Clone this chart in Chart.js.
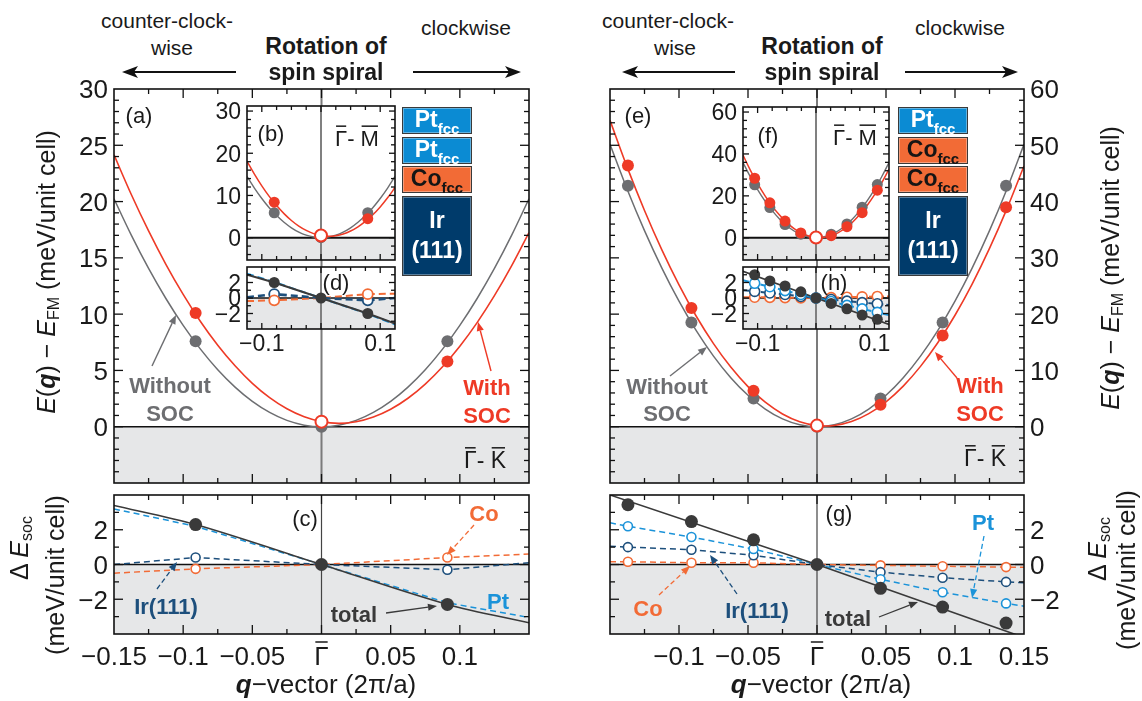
<!DOCTYPE html>
<html>
<head>
<meta charset="utf-8">
<title>Spin-spiral dispersion with and without SOC</title>
<script src="https://cdn.jsdelivr.net/npm/chart.js@4.4.1/dist/chart.umd.min.js"></script>
<style>
  html,body{margin:0;padding:0;background:#fff;}
  body{position:relative;width:1142px;height:701px;overflow:hidden;font-family:"Liberation Sans",Arial,Helvetica,sans-serif;color:#1a1a1a;}
  canvas{position:absolute;z-index:1;}
  canvas.inset{z-index:2;}
  .t{position:absolute;white-space:nowrap;transform:translate(-50%,-50%);line-height:1;z-index:3;}
  .rot{transform:translate(-50%,-50%) rotate(-90deg);}
  .t sub{font-size:0.64em;vertical-align:-0.28em;}
  .layer{position:absolute;box-sizing:border-box;border:1px solid #3a3a3a;box-shadow:inset 0 0 0 1px rgba(255,255,255,0.35);display:flex;align-items:center;justify-content:center;font-weight:bold;font-size:23px;z-index:3;}
  .layer span{display:inline-block;text-align:center;line-height:1.3;white-space:nowrap;}
  .layer span.sym{line-height:1;margin-top:-3px;}
  .layer sub{font-size:15px;vertical-align:-7px;line-height:0;}
  .pt{background:#0b8bd3;color:#fff;}
  .co{background:#f26b36;color:#151515;}
  .ir{background:#003b6b;color:#fff;}
  svg.over{position:absolute;left:0;top:0;z-index:3;}
</style>
</head>
<body>

<!-- rotation-sense header, left figure -->
<div class="t" style="left:167px;top:20px;font-size:21px">counter-clock-</div>
<div class="t" style="left:172px;top:47px;font-size:21px">wise</div>
<div class="t" style="left:326px;top:46px;font-size:23px;font-weight:bold">Rotation of</div>
<div class="t" style="left:326px;top:72px;font-size:23px;font-weight:bold">spin spiral</div>
<div class="t" style="left:466px;top:27px;font-size:21px">clockwise</div>
<!-- rotation-sense header, right figure -->
<div class="t" style="left:668px;top:20px;font-size:21px">counter-clock-</div>
<div class="t" style="left:675px;top:47px;font-size:21px">wise</div>
<div class="t" style="left:822px;top:46px;font-size:23px;font-weight:bold">Rotation of</div>
<div class="t" style="left:822px;top:72px;font-size:23px;font-weight:bold">spin spiral</div>
<div class="t" style="left:960px;top:27px;font-size:21px">clockwise</div>

<svg class="over" width="1142" height="701">
  <g stroke="#111" stroke-width="2">
    <line x1="236" y1="72" x2="132" y2="72"/>
    <line x1="413" y1="72" x2="511" y2="72"/>
    <line x1="735" y1="72" x2="632" y2="72"/>
    <line x1="905" y1="72" x2="1008" y2="72"/>
  </g>
  <g fill="#111">
    <polygon points="122,72 138,66 134,72 138,78"/>
    <polygon points="521,72 505,66 509,72 505,78"/>
    <polygon points="622,72 638,66 634,72 638,78"/>
    <polygon points="1018,72 1002,66 1006,72 1002,78"/>
  </g>
</svg>

<!-- axis titles -->
<div class="t rot" style="left:48px;top:272px;font-size:25px"><i>E</i>(<b><i>q</i></b>) − <i>E</i><sub>FM</sub> (meV/unit cell)</div>
<div class="t rot" style="left:1112px;top:268px;font-size:25px"><i>E</i>(<b><i>q</i></b>) − <i>E</i><sub>FM</sub> (meV/unit cell)</div>
<div class="t rot" style="left:21px;top:548px;font-size:25px">Δ <i>E</i><sub>soc</sub></div>
<div class="t rot" style="left:55px;top:575px;font-size:25px">(meV/unit cell)</div>
<div class="t rot" style="left:1099px;top:549px;font-size:25px">Δ <i>E</i><sub>soc</sub></div>
<div class="t rot" style="left:1126px;top:570px;font-size:25px">(meV/unit cell)</div>
<div class="t" style="left:326px;top:684px;font-size:26px"><b><i>q</i></b>−vector (2π/a)</div>
<div class="t" style="left:821px;top:684px;font-size:26px"><b><i>q</i></b>−vector (2π/a)</div>

<!-- layer stacks -->
<div class="layer pt" style="left:402px;top:107px;width:70px;height:27px"><span class="sym">Pt<sub>fcc</sub></span></div>
<div class="layer pt" style="left:402px;top:137px;width:70px;height:27px"><span class="sym">Pt<sub>fcc</sub></span></div>
<div class="layer co" style="left:402px;top:166px;width:70px;height:27px"><span class="sym">Co<sub>fcc</sub></span></div>
<div class="layer ir" style="left:402px;top:196px;width:70px;height:80px"><span>Ir<br>(111)</span></div>
<div class="layer pt" style="left:898px;top:107px;width:70px;height:27px"><span class="sym">Pt<sub>fcc</sub></span></div>
<div class="layer co" style="left:898px;top:137px;width:70px;height:27px"><span class="sym">Co<sub>fcc</sub></span></div>
<div class="layer co" style="left:898px;top:166px;width:70px;height:27px"><span class="sym">Co<sub>fcc</sub></span></div>
<div class="layer ir" style="left:898px;top:196px;width:70px;height:80px"><span>Ir<br>(111)</span></div>

<script>
// ---------------- data ----------------
// q grid (2π/a) of the fitted dispersion curves along Γ–K (main panels)
const qFitK = [-0.15,-0.1375,-0.125,-0.1125,-0.1,-0.0875,-0.075,-0.0625,-0.05,-0.0375,-0.025,-0.0125,0,
               0.0125,0.025,0.0375,0.05,0.0625,0.075,0.0875,0.1,0.1125,0.125,0.1375,0.15];
// q grid of the fitted curves along Γ–M (insets)
const qFitM = [-0.125,-0.1125,-0.1,-0.0875,-0.075,-0.0625,-0.05,-0.0375,-0.025,-0.0125,0,
               0.0125,0.025,0.0375,0.05,0.0625,0.075,0.0875,0.1,0.1125,0.125];

// (a) Pt/Pt/Co/Ir(111), Γ–K, meV per unit cell
const fitNoSocA = [20.25,17.02,14.06,11.39,9.0,6.89,5.06,3.52,2.25,1.27,0.56,0.14,0,
                   0.14,0.56,1.27,2.25,3.52,5.06,6.89,9.0,11.39,14.06,17.02,20.25];
const fitSocA   = [24.15,20.63,17.39,14.43,11.75,9.35,7.24,5.41,3.85,2.58,1.59,0.88,0.45,
                   0.30,0.44,0.86,1.55,2.53,3.79,5.33,7.15,9.25,11.64,14.31,17.25];
const qCalcA = [-0.091,0,0.091];
const calcNoSocA = [7.6,0,7.6];
const qSocA = [-0.091,0.091];
const calcSocA = [10.1,5.8];
const socGammaA = [0.45];

// (b) Pt/Pt/Co/Ir(111), Γ–M
const fitNoSocB = [14.5,11.75,9.28,7.1,5.22,3.63,2.32,1.3,0.58,0.15,0,
                   0.15,0.58,1.3,2.32,3.63,5.22,7.1,9.28,11.75,14.5];
const fitSocB   = [18.13,15.06,12.28,9.79,7.6,5.69,4.07,2.74,1.71,0.96,0.5,
                   0.33,0.46,0.86,1.57,2.57,3.85,5.41,7.28,9.44,11.88];
const qCalcB = [-0.079,0,0.079];
const calcNoSocB = [5.9,0,5.9];
const qSocB = [-0.079,0.079];
const calcSocB = [8.4,4.5];
const socGammaB = [0.5];

// (c) layer-resolved ΔE_soc, Γ–K
const qLineC = [-0.15,-0.091,0,0.091,0.15];
const totalLineC = [3.4,2.3,0,-2.3,-3.35];
const ptLineC = [3.2,2.2,0,-2.2,-3.05];
const irLineC = [0.0,0.4,0,-0.3,0.1];
const coLineC = [-0.5,-0.25,0,0.4,0.6];
const qPtsC = [-0.091,0,0.091];
const totalPtsC = [2.3,0,-2.3];
const qLayerPtsC = [-0.091,0.091];
const irPtsC = [0.4,-0.3];
const coPtsC = [-0.25,0.4];

// (d) layer-resolved ΔE_soc, Γ–M
const qLineD = [-0.125,-0.079,0,0.079,0.125];
const totalLineD = [3.0,2.0,0,-2.0,-3.3];
const ptLineD = [3.15,2.05,0,-2.05,-3.4];
const irLineD = [0.1,0.5,0,-0.3,0.0];
const coLineD = [-0.4,-0.3,0,0.5,0.55];
const qPtsD = [-0.079,0,0.079];
const totalPtsD = [2.0,0,-2.0];
const qLayerPtsD = [-0.079,0.079];
const irPtsD = [0.5,-0.3];
const coPtsD = [-0.3,0.5];

// (e) Pt/Co/Co/Ir(111), Γ–K
const fitNoSocE = [50.18,42.16,34.84,28.22,22.3,17.07,12.54,8.71,5.58,3.14,1.39,0.35,0,
                   0.35,1.39,3.14,5.58,8.71,12.54,17.07,22.3,28.22,34.84,42.16,50.18];
const fitSocE   = [54.43,46.07,38.42,31.46,25.2,19.63,14.77,10.6,7.13,4.35,2.27,0.89,0.2,
                   0.21,0.92,2.33,4.43,7.22,10.72,14.91,19.8,25.38,31.67,38.65,46.33];
const qCalcE = [-0.137,-0.091,-0.046,0,0.046,0.091,0.137];
const calcNoSocE = [42.8,18.5,5.0,0,5.0,18.5,42.8];
const qSocE = [-0.137,-0.091,-0.046,0.046,0.091,0.137];
const calcSocE = [46.4,21.1,6.4,3.9,16.2,39.0];
const socGammaE = [0.2];

// (f) Pt/Co/Co/Ir(111), Γ–M
const fitNoSocF = [35.94,29.11,23.0,17.61,12.94,8.98,5.75,3.23,1.44,0.36,0,
                   0.36,1.44,3.23,5.75,8.98,12.94,17.61,23.0,29.11,35.94];
const fitSocF   = [39.47,32.3,25.85,20.12,15.12,10.82,7.25,4.39,2.27,0.85,0.15,
                   0.17,0.92,2.37,4.55,7.44,11.07,15.4,20.45,26.22,32.72];
const qCalcF = [-0.105,-0.079,-0.053,-0.026,0,0.026,0.053,0.079,0.105];
const calcNoSocF = [25.3,14.4,6.3,1.7,0,1.7,6.6,14.6,25.4];
const qSocF = [-0.105,-0.079,-0.053,-0.026,0.026,0.053,0.079,0.105];
const calcSocF = [28.4,16.7,8.0,2.3,1.0,5.3,12.0,22.7];
const socGammaF = [0.15];

// (g) layer-resolved ΔE_soc, Γ–K
const qPtsG = [-0.137,-0.091,-0.046,0,0.046,0.091,0.137];
const totalPtsG = [3.44,2.47,1.42,0,-1.37,-2.45,-3.37];
const ptPtsG = [2.2,1.58,0.89,0,-0.85,-1.6,-2.24];
const irPtsG = [1.0,0.85,0.53,0,-0.44,-0.76,-1.0];
const coPtsG = [0.16,0.1,0.1,0,-0.05,-0.1,-0.15];
const qLineG = [-0.15,-0.137,-0.091,-0.046,0,0.046,0.091,0.137,0.15];
const ptLineG = [2.4,2.2,1.58,0.89,0,-0.85,-1.6,-2.24,-2.4];
const irLineG = [1.05,1.0,0.85,0.53,0,-0.44,-0.76,-1.0,-1.05];
const coLineG = [0.16,0.16,0.1,0.1,0,-0.05,-0.1,-0.15,-0.16];
const qTotalLineG = [-0.15,0,0.15];
const totalLineG = [4.0,0,-4.2];

// (h) layer-resolved ΔE_soc, Γ–M
const qPtsH = [-0.105,-0.079,-0.053,-0.026,0,0.026,0.053,0.079,0.105];
const totalPtsH = [3.0,2.2,1.55,0.8,0,-0.7,-1.4,-2.2,-2.75];
const ptPtsH = [1.9,1.45,0.95,0.45,0,-0.45,-0.95,-1.4,-1.85];
const irPtsH = [0.85,0.65,0.45,0.2,0,-0.2,-0.4,-0.6,-0.75];
const coPtsH = [0.1,0.08,0.05,0.02,0,0.05,0.1,0.15,0.2];
const qLineH = [-0.125,-0.105,-0.079,-0.053,-0.026,0,0.026,0.053,0.079,0.105,0.125];
const ptLineH = [2.3,1.9,1.45,0.95,0.45,0,-0.45,-0.95,-1.4,-1.85,-2.2];
const irLineH = [1.0,0.85,0.65,0.45,0.2,0,-0.2,-0.4,-0.6,-0.75,-0.9];
const coLineH = [0.1,0.1,0.08,0.05,0.02,0,0.05,0.1,0.15,0.2,0.2];
const qTotalLineH = [-0.125,0,0.125];
const totalLineH = [3.45,0,-3.4];

// tick labels
const yTicksA = [0,5,10,15,20,25,30];
const yTicksE = [0,10,20,30,40,50,60];
const yTicksB = [0,10,20,30];
const yTicksF = [0,20,40,60];
const yTicksSoc = [-2,0,2];
const xTicksC = [-0.15,-0.1,-0.05,0,0.05,0.1];
const xTicksG = [-0.1,-0.05,0,0.05,0.1,0.15];
const xTicksInset = [-0.1,0.1];

// ---------------- styling ----------------
const FONT = '"Liberation Sans", Arial, Helvetica, sans-serif';
const font = (px, w) => (w ? w + ' ' : '') + px + 'px ' + FONT;
const INK = '#1a1a1a';
const GRAY = '#6d6e71';
const RED = '#ee3a26';
const DARK = '#3a3a3a';
const PT = '#1b93d9';
const IR = '#1d4f7c';
const CO = '#f26b36';
const SHADE = '#e6e7e8';

const pts = (xs, ys) => xs.map((x, i) => ({x, y: ys[i]}));
const curve = (xs, ys, color, width, dash, tension) => ({
  data: pts(xs, ys), showLine: true, borderColor: color, borderWidth: width,
  borderDash: dash || [], pointRadius: 0, tension: tension || 0, fill: false
});
const dots = (xs, ys, fill, stroke, r, bw) => ({
  data: pts(xs, ys), showLine: false, pointRadius: r, pointBackgroundColor: fill,
  pointBorderColor: stroke, pointBorderWidth: bw
});

function seg(ctx, x1, y1, x2, y2) { ctx.beginPath(); ctx.moveTo(x1, y1); ctx.lineTo(x2, y2); ctx.stroke(); }

function label(ctx, s, x, y, size, color, weight) {
  ctx.font = font(size, weight); ctx.fillStyle = color;
  ctx.textAlign = 'center'; ctx.textBaseline = 'alphabetic';
  ctx.fillText(s, x, y + size * 0.36);
}

// text such as "Γ- K" with bars over the point symbols
function barLabel(ctx, parts, x, y, size) {
  ctx.font = font(size); ctx.fillStyle = INK; ctx.strokeStyle = INK; ctx.lineWidth = 1.5;
  ctx.textAlign = 'left'; ctx.textBaseline = 'alphabetic';
  const total = parts.reduce((w, p) => w + ctx.measureText(p[0]).width, 0);
  let cx = x - total / 2; const base = y + size * 0.36;
  for (const [s, bar] of parts) {
    const w = ctx.measureText(s).width;
    ctx.fillText(s, cx, base);
    if (bar) seg(ctx, cx + 1, base - size * 0.716 - 4, cx + w - 1, base - size * 0.716 - 4);
    cx += w;
  }
}

function arrow(ctx, x1, y1, x2, y2, color, width, dash) {
  const ang = Math.atan2(y2 - y1, x2 - x1), head = 9, half = 3.6;
  const bx = x2 - head * Math.cos(ang), by = y2 - head * Math.sin(ang);
  ctx.save();
  ctx.strokeStyle = color; ctx.fillStyle = color; ctx.lineWidth = width;
  ctx.setLineDash(dash || []);
  seg(ctx, x1, y1, bx, by);
  ctx.setLineDash([]);
  ctx.beginPath(); ctx.moveTo(x2, y2);
  ctx.lineTo(bx + half * Math.sin(ang), by - half * Math.cos(ang));
  ctx.lineTo(bx - half * Math.sin(ang), by + half * Math.cos(ang));
  ctx.closePath(); ctx.fill();
  ctx.restore();
}

const fmtQ = v => v === 0 ? 'Γ' : (v < 0 ? '−' : '') + String(Math.abs(v));
const fmtE = v => (v < 0 ? '−' : '') + String(Math.abs(v));

// ---------------- frame plugin: shading, Γ line, border, inward ticks, tick labels ----------------
const SPECS = {};
function tickList(min, max, step) {
  const out = [];
  for (let i = Math.ceil(min / step - 1e-9); i <= Math.floor(max / step + 1e-9); i++) out.push([i * step, Math.abs(i)]);
  return out;
}
const framePlugin = {
  id: 'frame',
  beforeDatasetsDraw(chart) {
    const s = SPECS[chart.canvas.id]; if (!s) return;
    const ctx = chart.ctx, a = chart.chartArea, xs = chart.scales.x, ys = chart.scales.y;
    ctx.save();
    ctx.fillStyle = '#fff'; ctx.fillRect(a.left, a.top, a.right - a.left, a.bottom - a.top);
    const y0 = ys.getPixelForValue(0);
    ctx.fillStyle = SHADE; ctx.fillRect(a.left, y0, a.right - a.left, a.bottom - y0);
    const x0 = xs.getPixelForValue(0);
    ctx.strokeStyle = s.gamma[0]; ctx.lineWidth = s.gamma[1];
    seg(ctx, x0, a.top, x0, a.bottom);
    ctx.strokeStyle = '#111'; ctx.lineWidth = s.zero;
    seg(ctx, a.left, y0, a.right, y0);
    ctx.restore();
  },
  afterDatasetsDraw(chart) {
    const s = SPECS[chart.canvas.id]; if (!s) return;
    const ctx = chart.ctx, a = chart.chartArea, xs = chart.scales.x, ys = chart.scales.y;
    ctx.save();
    ctx.strokeStyle = '#111'; ctx.lineWidth = 1.6;
    ctx.strokeRect(a.left, a.top, a.right - a.left, a.bottom - a.top);
    ctx.lineWidth = 1.3;
    const T = s.ticks;
    for (const [v, i] of tickList(s.x[0], s.x[1], T.xs)) {
      const p = xs.getPixelForValue(v);
      if (p < a.left + 2 || p > a.right - 2) continue;
      const L = i % T.xm === 0 ? T.big : T.small;
      seg(ctx, p, a.bottom, p, a.bottom - L);
      seg(ctx, p, a.top, p, a.top + L);
    }
    for (const [v, i] of tickList(s.y[0], s.y[1], T.ys)) {
      const p = ys.getPixelForValue(v);
      if (p < a.top + 2 || p > a.bottom - 2) continue;
      const L = i % T.ym === 0 ? T.big : T.small;
      seg(ctx, a.left, p, a.left + L, p);
      seg(ctx, a.right, p, a.right - L, p);
    }
    // y tick labels
    if (s.yl) {
      const Y = s.yl;
      ctx.font = font(Y.size); ctx.fillStyle = INK; ctx.textBaseline = 'alphabetic';
      ctx.textAlign = Y.side === 'left' ? 'right' : 'left';
      const x = Y.side === 'left' ? a.left - Y.pad : a.right + Y.pad;
      for (const v of Y.values) ctx.fillText(fmtE(v), x, ys.getPixelForValue(v) + Y.size * 0.36);
    }
    // x tick labels
    if (s.xl) {
      const X = s.xl;
      ctx.font = font(X.size); ctx.fillStyle = INK; ctx.textBaseline = 'alphabetic'; ctx.textAlign = 'center';
      ctx.strokeStyle = INK; ctx.lineWidth = 1.5;
      const base = a.bottom + X.pad + X.size * 0.716;
      for (const v of X.values) {
        const p = xs.getPixelForValue(v), str = fmtQ(v);
        ctx.fillText(str, p, base);
        if (v === 0) {
          const w = ctx.measureText(str).width;
          seg(ctx, p - w / 2 + 1, base - X.size * 0.716 - 4, p + w / 2 - 1, base - X.size * 0.716 - 4);
        }
      }
    }
    ctx.restore();
    if (s.deco) { ctx.save(); ctx.translate(-s.ox, -s.oy); s.deco(ctx); ctx.restore(); }
  }
};

function makePanel(id, area, pad, spec, layers, inset) {
  const cv = document.createElement('canvas');
  cv.id = id; if (inset) cv.className = 'inset';
  const w = area.r - area.l + pad.l + pad.r, h = area.b - area.t + pad.t + pad.b;
  cv.width = w; cv.height = h;
  cv.style.left = (area.l - pad.l) + 'px'; cv.style.top = (area.t - pad.t) + 'px';
  cv.style.width = w + 'px'; cv.style.height = h + 'px';
  document.body.appendChild(cv);
  spec.ox = area.l - pad.l; spec.oy = area.t - pad.t;
  SPECS[id] = spec;
  // datasets are listed bottom-to-top; Chart.js paints index 0 last
  return new Chart(cv, {
    type: 'scatter',
    data: {datasets: layers.slice().reverse()},
    options: {
      responsive: false, animation: false, devicePixelRatio: 1, events: [],
      layout: {padding: {left: pad.l, right: pad.r, top: pad.t, bottom: pad.b}, autoPadding: false},
      scales: {
        x: {type: 'linear', min: spec.x[0], max: spec.x[1], display: false},
        y: {type: 'linear', min: spec.y[0], max: spec.y[1], display: false}
      },
      plugins: {legend: {display: false}, tooltip: {enabled: false}}
    },
    plugins: [framePlugin]
  });
}

// ---------------- annotations ----------------
function decoA(ctx) {
  label(ctx, '(a)', 139, 115, 22, INK);
  label(ctx, 'Without', 170, 385, 22, GRAY, 'bold');
  label(ctx, 'SOC', 170, 413, 22, GRAY, 'bold');
  arrow(ctx, 152, 366, 176, 315, GRAY, 1.4);
  label(ctx, 'With', 487, 387, 22, RED, 'bold');
  label(ctx, 'SOC', 487, 415, 22, RED, 'bold');
  arrow(ctx, 491, 371, 478, 322, RED, 1.4);
  barLabel(ctx, [['Γ', true], ['- ', false], ['K', true]], 485, 460, 23);
}
function decoB(ctx) {
  label(ctx, '(b)', 271, 133, 22, INK);
  barLabel(ctx, [['Γ', true], ['- ', false], ['M', true]], 357, 138, 22);
}
function decoD(ctx) { label(ctx, '(d)', 336, 282, 22, INK); }
function decoC(ctx) {
  label(ctx, '(c)', 305, 518, 22, INK);
  label(ctx, 'Co', 484, 513, 22, CO, 'bold');
  arrow(ctx, 474, 525, 447, 555, CO, 1.3, [5, 3]);
  label(ctx, 'Pt', 498, 601, 22, PT, 'bold');
  label(ctx, 'total', 354, 614, 22, DARK, 'bold');
  arrow(ctx, 386, 613, 437, 606, DARK, 1.3);
  label(ctx, 'Ir(111)', 166, 606, 22, IR, 'bold');
  arrow(ctx, 157, 589, 177, 562, IR, 1.3, [5, 3]);
}
function decoE(ctx) {
  label(ctx, '(e)', 638, 115, 22, INK);
  label(ctx, 'Without', 667, 386, 22, GRAY, 'bold');
  label(ctx, 'SOC', 667, 413, 22, GRAY, 'bold');
  arrow(ctx, 670, 376, 707, 347, GRAY, 1.4);
  label(ctx, 'With', 980, 385, 22, RED, 'bold');
  label(ctx, 'SOC', 980, 413, 22, RED, 'bold');
  arrow(ctx, 957, 378, 935, 352, RED, 1.4);
  barLabel(ctx, [['Γ', true], ['- ', false], ['K', true]], 985, 458, 23);
}
function decoF(ctx) {
  label(ctx, '(f)', 768, 135, 22, INK);
  barLabel(ctx, [['Γ', true], ['- ', false], ['M', true]], 855, 137, 22);
}
function decoH(ctx) { label(ctx, '(h)', 834, 282, 22, INK); }
function decoG(ctx) {
  label(ctx, '(g)', 839, 513, 22, INK);
  label(ctx, 'Pt', 983, 522, 22, PT, 'bold');
  arrow(ctx, 984, 536, 972, 598, PT, 1.3, [5, 3]);
  label(ctx, 'Co', 648, 608, 22, CO, 'bold');
  arrow(ctx, 659, 595, 690, 566, CO, 1.3, [5, 3]);
  label(ctx, 'Ir(111)', 757, 610, 22, IR, 'bold');
  arrow(ctx, 737, 594, 710, 555, IR, 1.3, [5, 3]);
  label(ctx, 'total', 848, 618, 22, DARK, 'bold');
  arrow(ctx, 879, 617, 918, 602, DARK, 1.3);
}

// ---------------- panels ----------------
const mainTicks = {xs: 0.025, xm: 2, small: 5, big: 9};
const insetTicks = {xs: 0.025, xm: 4, small: 4, big: 6};
const DASH = [6, 4];
const MAIN_TICK_FONT = 26, INSET_TICK_FONT = 23;

// (a)
makePanel('pa', {l: 114, t: 89, r: 529, b: 483}, {l: 114, t: 10, r: 12, b: 10}, {
  x: [-0.15, 0.15], y: [-5, 30], gamma: ['#7b7b7b', 2], zero: 1.6,
  ticks: Object.assign({ys: 1, ym: 5}, mainTicks),
  yl: {side: 'left', values: yTicksA, size: MAIN_TICK_FONT, pad: 6}, deco: decoA
}, [
  curve(qFitK, fitNoSocA, GRAY, 1.5, null, 0.35),
  curve(qFitK, fitSocA, RED, 1.6, null, 0.35),
  dots(qCalcA, calcNoSocA, GRAY, GRAY, 6, 0),
  dots(qSocA, calcSocA, RED, RED, 6, 0),
  dots([0], socGammaA, '#fff', RED, 6, 2)
]);

// (c)
makePanel('pc', {l: 114, t: 495, r: 529, b: 634}, {l: 114, t: 6, r: 12, b: 60}, {
  x: [-0.15, 0.15], y: [-4, 4], gamma: ['#444', 1.2], zero: 1.3,
  ticks: Object.assign({ys: 1, ym: 2}, mainTicks),
  yl: {side: 'left', values: yTicksSoc, size: MAIN_TICK_FONT, pad: 6},
  xl: {values: xTicksC, size: MAIN_TICK_FONT, pad: 12}, deco: decoC
}, [
  curve(qLineC, coLineC, CO, 1.5, DASH),
  curve(qLineC, irLineC, IR, 1.5, DASH),
  curve(qLineC, ptLineC, PT, 1.5, DASH),
  curve(qLineC, totalLineC, DARK, 1.6, null, 0.3),
  dots(qLayerPtsC, irPtsC, '#fff', IR, 4.5, 1.6),
  dots(qLayerPtsC, coPtsC, '#fff', CO, 4.5, 1.6),
  dots(qPtsC, totalPtsC, DARK, DARK, 6.5, 0)
]);

// (e)
makePanel('pe', {l: 610, t: 89, r: 1024, b: 483}, {l: 10, t: 10, r: 75, b: 10}, {
  x: [-0.15, 0.15], y: [-10, 60], gamma: ['#7b7b7b', 2], zero: 1.6,
  ticks: Object.assign({ys: 2, ym: 5}, mainTicks),
  yl: {side: 'right', values: yTicksE, size: MAIN_TICK_FONT, pad: 6}, deco: decoE
}, [
  curve(qFitK, fitNoSocE, GRAY, 1.5, null, 0.35),
  curve(qFitK, fitSocE, RED, 1.6, null, 0.35),
  dots(qCalcE, calcNoSocE, GRAY, GRAY, 6, 0),
  dots(qSocE, calcSocE, RED, RED, 6, 0),
  dots([0], socGammaE, '#fff', RED, 6, 2)
]);

// (g)
makePanel('pg', {l: 610, t: 495, r: 1024, b: 634}, {l: 10, t: 6, r: 75, b: 60}, {
  x: [-0.15, 0.15], y: [-4, 4], gamma: ['#444', 1.2], zero: 1.3,
  ticks: Object.assign({ys: 1, ym: 2}, mainTicks),
  yl: {side: 'right', values: yTicksSoc, size: MAIN_TICK_FONT, pad: 6},
  xl: {values: xTicksG, size: MAIN_TICK_FONT, pad: 12}, deco: decoG
}, [
  curve(qLineG, coLineG, CO, 1.5, DASH),
  curve(qLineG, irLineG, IR, 1.5, DASH),
  curve(qLineG, ptLineG, PT, 1.5, DASH),
  curve(qTotalLineG, totalLineG, DARK, 1.6),
  dots(qPtsG, coPtsG, '#fff', CO, 4.5, 1.6),
  dots(qPtsG, irPtsG, '#fff', IR, 4.5, 1.6),
  dots(qPtsG, ptPtsG, '#fff', PT, 4.5, 1.6),
  dots(qPtsG, totalPtsG, DARK, DARK, 6.5, 0)
]);

// (b)
makePanel('pb', {l: 247, t: 106, r: 395, b: 260}, {l: 60, t: 8, r: 6, b: 4}, {
  x: [-0.125, 0.125], y: [-5.3, 31.2], gamma: ['#808080', 2], zero: 2,
  ticks: Object.assign({ys: 2, ym: 5}, insetTicks),
  yl: {side: 'left', values: yTicksB, size: INSET_TICK_FONT, pad: 6}, deco: decoB
}, [
  curve(qFitM, fitNoSocB, GRAY, 1.4, null, 0.35),
  curve(qFitM, fitSocB, RED, 1.5, null, 0.35),
  dots(qCalcB, calcNoSocB, GRAY, GRAY, 5.5, 0),
  dots(qSocB, calcSocB, RED, RED, 5.5, 0),
  dots([0], socGammaB, '#fff', RED, 6, 2)
], true);

// (d)
makePanel('pd', {l: 247, t: 267, r: 395, b: 329}, {l: 60, t: 4, r: 6, b: 36}, {
  x: [-0.125, 0.125], y: [-4, 4], gamma: ['#808080', 2], zero: 1.3,
  ticks: Object.assign({ys: 1, ym: 2}, insetTicks),
  yl: {side: 'left', values: yTicksSoc, size: INSET_TICK_FONT, pad: 6},
  xl: {values: xTicksInset, size: INSET_TICK_FONT, pad: 6}, deco: decoD
}, [
  curve(qLineD, coLineD, CO, 2, [7, 4]),
  curve(qLineD, irLineD, IR, 2.6, [7, 4]),
  curve(qLineD, ptLineD, PT, 2, [7, 4]),
  curve(qLineD, totalLineD, DARK, 2),
  dots(qLayerPtsD, irPtsD, '#fff', IR, 5, 1.8),
  dots(qLayerPtsD, coPtsD, '#fff', CO, 5, 1.8),
  dots(qPtsD, totalPtsD, DARK, DARK, 5.5, 0)
], true);

// (f)
makePanel('pf', {l: 743, t: 107, r: 889, b: 260}, {l: 60, t: 8, r: 6, b: 4}, {
  x: [-0.125, 0.125], y: [-10.6, 62.4], gamma: ['#808080', 2], zero: 2,
  ticks: Object.assign({ys: 4, ym: 5}, insetTicks),
  yl: {side: 'left', values: yTicksF, size: INSET_TICK_FONT, pad: 6}, deco: decoF
}, [
  curve(qFitM, fitNoSocF, GRAY, 1.4, null, 0.35),
  curve(qFitM, fitSocF, RED, 1.5, null, 0.35),
  dots(qCalcF, calcNoSocF, GRAY, GRAY, 5.5, 0),
  dots(qSocF, calcSocF, RED, RED, 5.5, 0),
  dots([0], socGammaF, '#fff', RED, 6, 2)
], true);

// (h)
makePanel('ph', {l: 743, t: 267, r: 889, b: 329}, {l: 60, t: 4, r: 6, b: 36}, {
  x: [-0.125, 0.125], y: [-4, 4], gamma: ['#808080', 2], zero: 1.3,
  ticks: Object.assign({ys: 1, ym: 2}, insetTicks),
  yl: {side: 'left', values: yTicksSoc, size: INSET_TICK_FONT, pad: 6},
  xl: {values: xTicksInset, size: INSET_TICK_FONT, pad: 6}, deco: decoH
}, [
  curve(qLineH, coLineH, CO, 2, [6, 3]),
  curve(qLineH, irLineH, IR, 2, [6, 3]),
  curve(qLineH, ptLineH, PT, 2, [6, 3]),
  curve(qTotalLineH, totalLineH, DARK, 1.8),
  dots(qPtsH, coPtsH, '#fff', CO, 5, 1.6),
  dots(qPtsH, irPtsH, '#fff', IR, 5, 1.6),
  dots(qPtsH, ptPtsH, '#fff', PT, 5, 1.6),
  dots(qPtsH, totalPtsH, DARK, DARK, 5.5, 0)
], true);
</script>
</body>
</html>
